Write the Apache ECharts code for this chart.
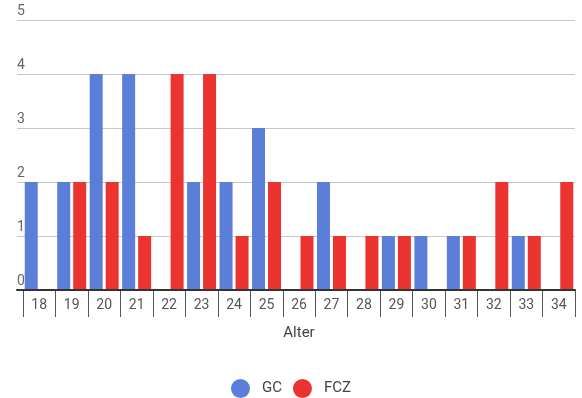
<!DOCTYPE html>
<html>
<head>
<meta charset="utf-8">
<script src="https://cdn.jsdelivr.net/npm/echarts@6/dist/echarts.min.js"></script>
<style>
  html, body { margin: 0; padding: 0; background: #fff; }
  #chart { width: 582px; height: 398px; }
</style>
</head>
<body>
<div id="chart"></div>
<script>
const ages = ["18", "19", "20", "21", "22", "23", "24", "25", "26", "27", "28", "29", "30", "31", "32", "33", "34"];
const gc = [2, 2, 4, 4, 0, 2, 2, 3, 0, 2, 0, 1, 1, 1, 0, 1, 0];
const fcz = [0, 2, 2, 1, 4, 4, 1, 2, 1, 1, 1, 1, 0, 1, 2, 1, 2];

const blue = "#5b7ed8";
const red = "#eb3430";
const font = "Roboto";

const chart = echarts.init(document.getElementById("chart"));
chart.setOption({
  animation: false,
  textStyle: { fontFamily: font },
  grid: [
    { left: 17, right: 7, top: 20, bottom: 108 },
    { left: 23, right: 7, top: 20, bottom: 108 }
  ],
  legend: {
    top: 374,
    left: "center",
    icon: "circle",
    itemWidth: 19,
    itemHeight: 19,
    itemGap: 11,
    textStyle: { color: "#444", fontSize: 15, fontFamily: font, padding: [0, 0, 0, 7] }
  },
  xAxis: [
    {
      gridIndex: 0,
      type: "category",
      data: [""],
      axisLine: { show: true, lineStyle: { color: "#333", width: 2 } },
      axisTick: { show: false },
      axisLabel: { show: false },
      z: 5
    },
    {
      gridIndex: 1,
      type: "category",
      data: ages,
      axisLine: { show: false },
      axisTick: { show: true, length: 27, lineStyle: { color: "#555", width: 1 } },
      axisLabel: { color: "#555", fontSize: 14, margin: 8, fontFamily: font },
      name: "Alter",
      nameLocation: "middle",
      nameGap: 36,
      nameTextStyle: { color: "#444", fontSize: 15, fontFamily: font }
    }
  ],
  yAxis: [
    {
      gridIndex: 0,
      type: "value",
      min: 0,
      max: 5,
      interval: 1,
      axisLine: { show: false },
      axisTick: { show: false },
      splitLine: { lineStyle: { color: "#c8c8c8", width: 1 } },
      axisLabel: {
        inside: true,
        margin: 0,
        verticalAlign: "bottom",
        padding: [0, 0, 2, 0],
        color: "#666",
        fontSize: 14,
        fontFamily: font
      }
    },
    {
      gridIndex: 1,
      type: "value",
      min: 0,
      max: 5,
      interval: 1,
      show: false
    }
  ],
  series: [
    {
      name: "GC",
      type: "bar",
      xAxisIndex: 1,
      yAxisIndex: 1,
      data: gc,
      barWidth: 13,
      barGap: "23%",
      itemStyle: { color: blue }
    },
    {
      name: "FCZ",
      type: "bar",
      xAxisIndex: 1,
      yAxisIndex: 1,
      data: fcz,
      barWidth: 13,
      itemStyle: { color: red }
    }
  ]
});
</script>
</body>
</html>
